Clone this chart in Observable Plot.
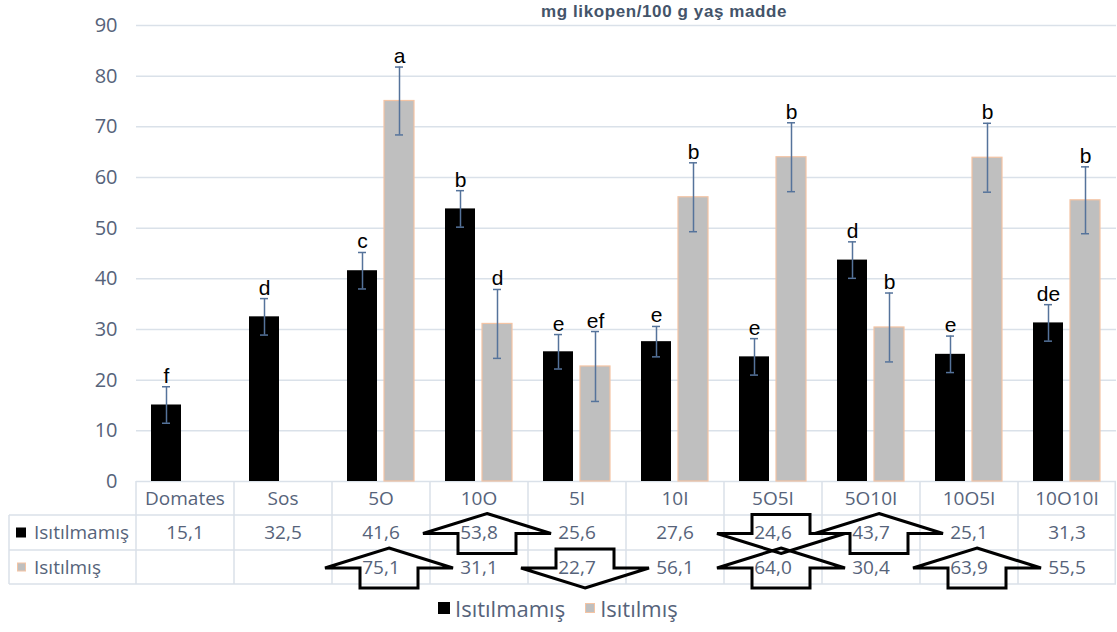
<!DOCTYPE html>
<html>
<head>
<meta charset="utf-8">
<script src="https://cdn.jsdelivr.net/npm/d3@7"></script>
<script src="https://cdn.jsdelivr.net/npm/@observablehq/plot@0.6"></script>
<style>
  body { margin: 0; background: #fff; }
  #wrap { position: relative; width: 1117px; height: 632px; overflow: hidden; font-family: "Open Sans", sans-serif; }
  #title { position: absolute; top: 2px; left: 541px; font: bold 17px "Liberation Sans", sans-serif; letter-spacing: 0.6px; color: #44546a; white-space: nowrap; }
  #chart { position: absolute; top: 0; left: 0; }
  #overlay { position: absolute; top: 0; left: 0; pointer-events: none; }
  #legend { position: absolute; top: 593px; left: 438px; display: flex; align-items: center; font-size: 22px; color: #56637a; white-space: nowrap; }
  #legend .sw { display: inline-block; margin-right: 5px; }
</style>
</head>
<body>
<div id="wrap">
  <div id="chart"></div>
  <div id="title">mg likopen/100 g yaş madde</div>
  <svg id="overlay" width="1117" height="632"></svg>
  <div id="legend"></div>
</div>
<script>
// ---- data ----
const categories = ["Domates", "Sos", "5O", "10O", "5I", "10I", "5O5I", "5O10I", "10O5I", "10O10I"];
const seriesNames = ["Isıtılmamış", "Isıtılmış"];
const unheated = [15.1, 32.5, 41.6, 53.8, 25.6, 27.6, 24.6, 43.7, 25.1, 31.3];
const heated = [null, null, 75.1, 31.1, 22.7, 56.1, 64.0, 30.4, 63.9, 55.5];
const unheatedErr = [3.6, 3.6, 3.6, 3.6, 3.4, 3.0, 3.6, 3.6, 3.6, 3.6];
const heatedErr = [null, null, 6.7, 6.8, 6.9, 6.8, 6.8, 6.8, 6.8, 6.6];
const unheatedLetters = ["f", "d", "c", "b", "e", "e", "e", "d", "e", "de"];
const heatedLetters = ["", "", "a", "d", "ef", "b", "b", "b", "b", "b"];
const unheatedLabels = ["15,1", "32,5", "41,6", "53,8", "25,6", "27,6", "24,6", "43,7", "25,1", "31,3"];
const heatedLabels = ["", "", "75,1", "31,1", "22,7", "56,1", "64,0", "30,4", "63,9", "55,5"];
// arrow annotations drawn over the data table (up = increase, down = decrease)
const unheatedArrows = [null, null, null, "up", null, null, "down", "up", null, null];
const heatedArrows = [null, null, "up", null, "down", null, "up", null, "up", null];
const yTicks = [0, 10, 20, 30, 40, 50, 60, 70, 80, 90];

// ---- build rows ----
const rows = [];
categories.forEach((c, i) => {
  rows.push({cat: c, series: seriesNames[0], value: unheated[i], err: unheatedErr[i], letter: unheatedLetters[i]});
  if (heated[i] != null) rows.push({cat: c, series: seriesNames[1], value: heated[i], err: heatedErr[i], letter: heatedLetters[i]});
});

const textColor = "#56637a";
const gridColor = "#dae1e9";
const errColor = "#55739b";

const plot = Plot.plot({
  width: 1117,
  height: 484,
  marginTop: 25,
  marginBottom: 3,
  marginLeft: 136,
  marginRight: 1,
  style: {fontFamily: "Open Sans", fontSize: "20px", color: textColor, background: "transparent", overflow: "visible"},
  fx: {domain: categories, padding: 0, axis: null, label: null},
  x: {domain: seriesNames, paddingInner: 0.187, paddingOuter: 0.4, axis: null},
  y: {domain: [0, 90], label: null},
  marks: [
    Plot.gridY(yTicks, {stroke: gridColor, strokeOpacity: 1, strokeWidth: 1.5}),
    Plot.axisY(yTicks, {tickSize: 0, tickPadding: 19, fontSize: 20, fill: textColor, label: null}),
    Plot.barY(rows.filter(d => d.series === seriesNames[0]), {fx: "cat", x: "series", y: "value", fill: "#000000"}),
    Plot.barY(rows.filter(d => d.series === seriesNames[1]), {fx: "cat", x: "series", y: "value", fill: "#bfbfbf", stroke: "#f4c4a4", strokeWidth: 1.2}),
    Plot.ruleX(rows, {fx: "cat", x: "series", y1: d => d.value - d.err, y2: d => d.value + d.err, stroke: errColor, strokeWidth: 1.5}),
    Plot.tickY(rows, {fx: "cat", x: "series", y: d => d.value + d.err, stroke: errColor, strokeWidth: 1.5, insetLeft: 11, insetRight: 11}),
    Plot.tickY(rows, {fx: "cat", x: "series", y: d => d.value - d.err, stroke: errColor, strokeWidth: 1.5, insetLeft: 11, insetRight: 11}),
    Plot.text(rows, {fx: "cat", x: "series", y: d => d.value + d.err, text: "letter", lineAnchor: "bottom", dy: -4, fontSize: 21, fontFamily: "Liberation Sans", fill: "#000"})
  ]
});
document.getElementById("chart").appendChild(plot);

// ---- data table + arrows (positions from the fx / y scales) ----
const fx = plot.scale("fx");
const ys = plot.scale("y");
const bw = fx.bandwidth;
const colLeft = c => fx.apply(c);
const tableTop = ys.apply(0);
const rowH = [34, 35, 34];
const rowTop = [tableTop, tableTop + rowH[0], tableTop + rowH[0] + rowH[1]];
const tableBottom = rowTop[2] + rowH[2];
const tableLeft = 9;
const plotRight = colLeft(categories[categories.length - 1]) + bw;

const svg = d3.select("#overlay");
const lines = svg.append("g").attr("stroke", gridColor).attr("stroke-width", 1.5);
[rowTop[1], rowTop[2], tableBottom].forEach(y => lines.append("line").attr("x1", tableLeft).attr("x2", plotRight).attr("y1", y).attr("y2", y));
lines.append("line").attr("x1", tableLeft).attr("x2", tableLeft).attr("y1", rowTop[1]).attr("y2", tableBottom);
categories.forEach(c => {
  const x = colLeft(c);
  lines.append("line").attr("x1", x).attr("x2", x).attr("y1", tableTop).attr("y2", tableBottom);
});
lines.append("line").attr("x1", plotRight - 0.75).attr("x2", plotRight - 0.75).attr("y1", tableTop).attr("y2", tableBottom);

const txt = svg.append("g").attr("font-family", "Open Sans").attr("font-size", 19).attr("fill", textColor).attr("text-anchor", "middle");
categories.forEach((c, i) => {
  const cx = colLeft(c) + bw / 2;
  txt.append("text").attr("x", cx).attr("y", rowTop[0] + rowH[0] / 2).attr("dy", "0.35em").text(c);
  txt.append("text").attr("x", cx).attr("y", rowTop[1] + rowH[1] / 2).attr("dy", "0.35em").text(unheatedLabels[i]);
  txt.append("text").attr("x", cx).attr("y", rowTop[2] + rowH[2] / 2).attr("dy", "0.35em").text(heatedLabels[i]);
});
// row headers
const rh = svg.append("g").attr("font-family", "Open Sans").attr("font-size", 19).attr("fill", textColor);
rh.append("rect").attr("x", 16).attr("y", rowTop[1] + rowH[1] / 2 - 5).attr("width", 10).attr("height", 10).attr("fill", "#000");
rh.append("text").attr("x", 34).attr("y", rowTop[1] + rowH[1] / 2).attr("dy", "0.35em").text(seriesNames[0]);
rh.append("rect").attr("x", 17.5).attr("y", rowTop[2] + rowH[2] / 2 - 4).attr("width", 8).attr("height", 8).attr("fill", "#bfbfbf").attr("stroke", "#f4c4a4").attr("stroke-width", 1);
rh.append("text").attr("x", 34).attr("y", rowTop[2] + rowH[2] / 2).attr("dy", "0.35em").text(seriesNames[1]);

// arrows
const arrowG = svg.append("g").attr("fill", "none").attr("stroke", "#000").attr("stroke-width", 3).attr("stroke-linejoin", "miter");
function arrowPath(cx, cy, dir) {
  const hw = 64, sw = 29;
  if (dir === "up") {
    return `M${cx},${cy - 19} L${cx + hw},${cy + 1} L${cx + sw},${cy + 1} L${cx + sw},${cy + 21} L${cx - sw},${cy + 21} L${cx - sw},${cy + 1} L${cx - hw},${cy + 1} Z`;
  }
  return `M${cx},${cy + 21} L${cx + hw},${cy + 1} L${cx + sw},${cy + 1} L${cx + sw},${cy - 18} L${cx - sw},${cy - 18} L${cx - sw},${cy + 1} L${cx - hw},${cy + 1} Z`;
}
[[unheatedArrows, 1], [heatedArrows, 2]].forEach(([arr, r]) => {
  arr.forEach((dir, i) => {
    if (!dir) return;
    const cx = colLeft(categories[i]) + bw / 2 + 8;
    const cy = rowTop[r] + rowH[r] / 2;
    arrowG.append("path").attr("d", arrowPath(cx, cy, dir));
  });
});

// legend
const legend = document.getElementById("legend");
legend.innerHTML =
  `<span class="sw" style="width:12px;height:12px;background:#000"></span><span>${seriesNames[0]}</span>` +
  `<span class="sw" style="width:10px;height:10px;background:#bfbfbf;border:1px solid #f4c4a4;margin-left:20px;box-sizing:border-box"></span><span>${seriesNames[1]}</span>`;
</script>
</body>
</html>
